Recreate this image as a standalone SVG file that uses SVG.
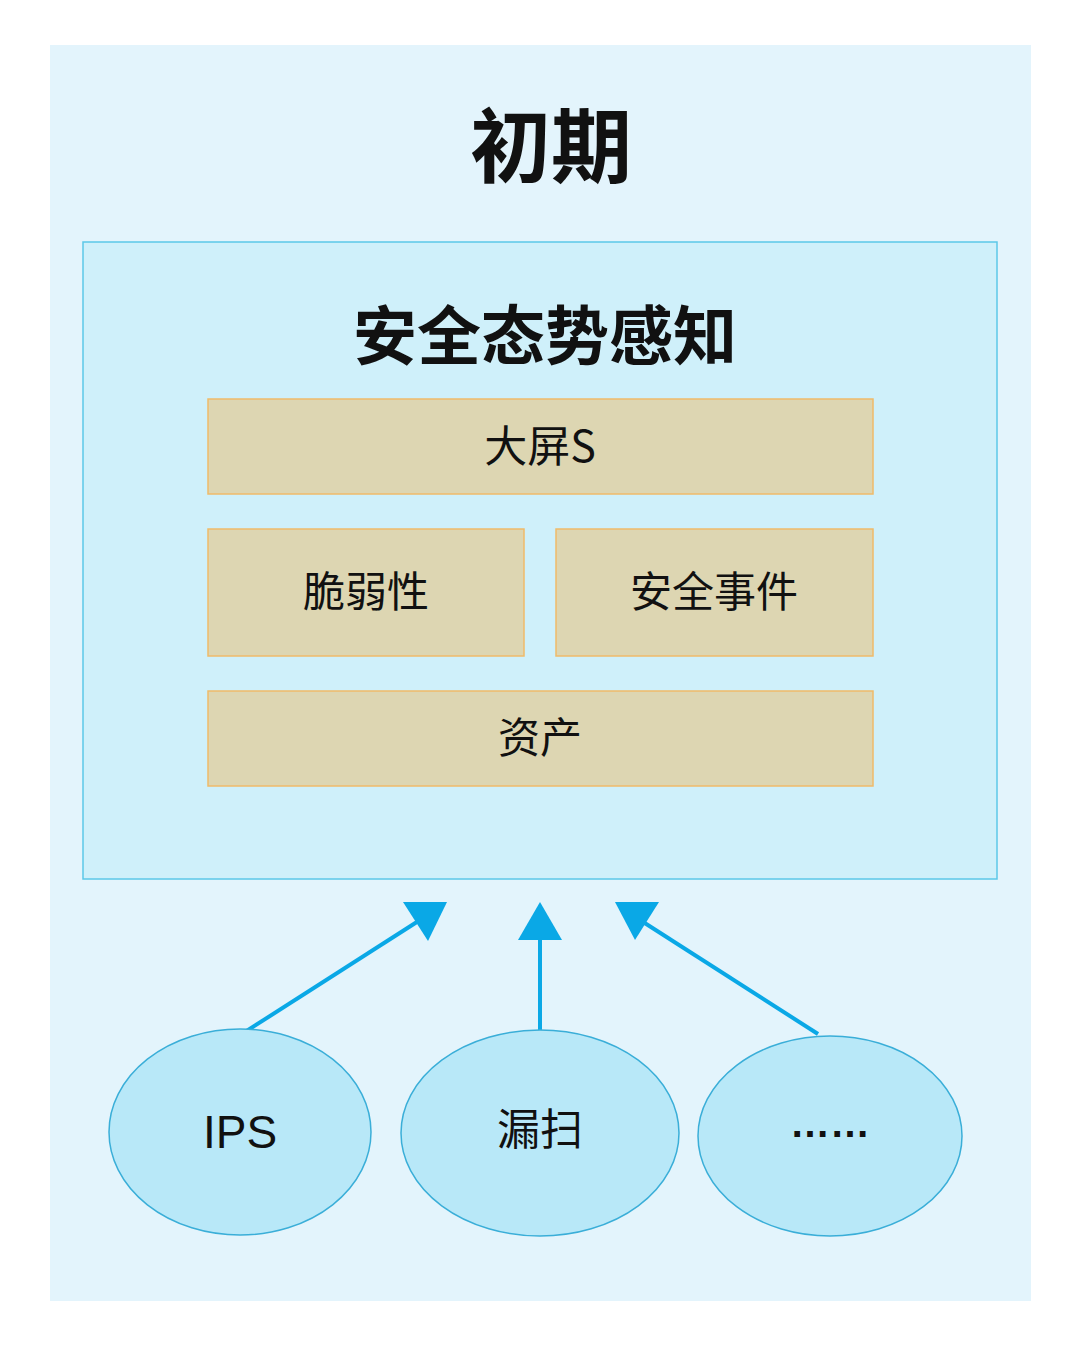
<svg xmlns="http://www.w3.org/2000/svg" width="1080" height="1349" viewBox="0 0 1080 1349">
<style>
.t{font-family:"Noto Sans CJK SC","Liberation Sans",sans-serif;fill:#111;text-anchor:middle;dominant-baseline:central}
.lat{font-family:"Liberation Sans",sans-serif}
.box{fill:#ddd6b2;stroke:#efba6a;stroke-width:1.5}
.ell{fill:#b8e8f8;stroke:#3aaed8;stroke-width:1.5}
.line{stroke:#0aa8e6;stroke-width:4;fill:none}
.head{fill:#0aa8e6}
</style>
<rect x="0" y="0" width="1080" height="1349" fill="#ffffff"/>
<rect x="50" y="45" width="981" height="1256" fill="#e3f4fc"/>
<g id="title"><text class="t" x="551" y="140" font-size="81" font-weight="bold">初期</text></g>
<g id="panel">
<rect x="83" y="242" width="914" height="637" fill="#cff0fa" stroke="#5cc8e8" stroke-width="1.5"/>
<text class="t" x="545" y="331" font-size="64" font-weight="bold">安全态势感知</text>
</g>
<g id="n-dapings"><rect class="box" x="208" y="399" width="665" height="95"/><text class="t" x="540" y="443" font-size="43">大屏S</text></g>
<g id="n-cuiruoxing"><rect class="box" x="208" y="529" width="316" height="127"/><text class="t" x="366" y="588" font-size="42">脆弱性</text></g>
<g id="n-anquanshijian"><rect class="box" x="556" y="529" width="317" height="127"/><text class="t" x="714" y="588" font-size="42">安全事件</text></g>
<g id="n-zichan"><rect class="box" x="208" y="691" width="665" height="95"/><text class="t" x="540" y="734" font-size="42">资产</text></g>
<g id="connectors">
<line class="line" x1="245" y1="1032" x2="420" y2="920"/>
<polygon class="head" points="403,902 447,902 428,941"/>
<line class="line" x1="540" y1="1034" x2="540" y2="935"/>
<polygon class="head" points="540,902 518,940 562,940"/>
<line class="line" x1="818" y1="1034" x2="640" y2="920"/>
<polygon class="head" points="615,902 659,902 635,940"/>
</g>
<g id="n-ips"><ellipse class="ell" cx="240" cy="1132" rx="131" ry="103"/><text class="t lat" x="240" y="1132" font-size="46">IPS</text></g>
<g id="n-loudsao"><ellipse class="ell" cx="540" cy="1133" rx="139" ry="103"/><text class="t" x="540" y="1126" font-size="43">漏扫</text></g>
<g id="n-more"><ellipse class="ell" cx="830" cy="1136" rx="132" ry="100"/><text class="t lat" x="830" y="1123" font-size="40" font-weight="bold">……</text></g>
</svg>
